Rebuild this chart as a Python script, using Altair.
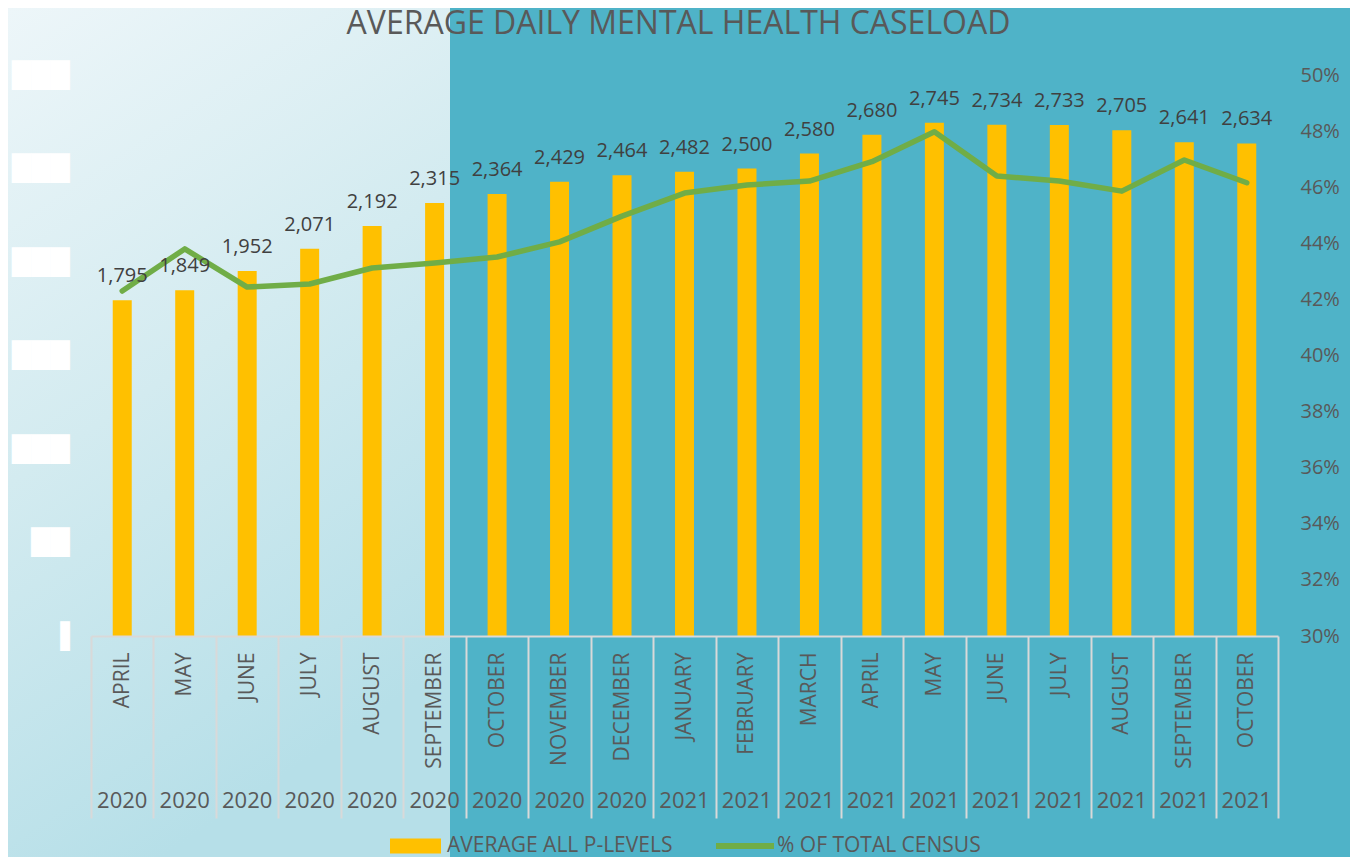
import altair as alt
import pandas as pd

# ---- data ----
months = ["APRIL", "MAY", "JUNE", "JULY", "AUGUST", "SEPTEMBER", "OCTOBER",
          "NOVEMBER", "DECEMBER", "JANUARY", "FEBRUARY", "MARCH", "APRIL",
          "MAY", "JUNE", "JULY", "AUGUST", "SEPTEMBER", "OCTOBER"]
years = ["2020", "2020", "2020", "2020", "2020", "2020", "2020", "2020", "2020",
         "2021", "2021", "2021", "2021", "2021", "2021", "2021", "2021", "2021", "2021"]
caseload = [1795, 1849, 1952, 2071, 2192, 2315, 2364, 2429, 2464, 2482,
            2500, 2580, 2680, 2745, 2734, 2733, 2705, 2641, 2634]
pct_census = [42.30, 43.80, 42.44, 42.55, 43.12, 43.30, 43.51, 44.05, 44.97,
              45.79, 46.08, 46.22, 46.91, 47.98, 46.40, 46.22, 45.86, 46.97, 46.16]
left_ticks = [0, 500, 1000, 1500, 2000, 2500, 3000]
right_ticks = [30, 32, 34, 36, 38, 40, 42, 44, 46, 48, 50]
series_bar = "AVERAGE ALL P-LEVELS"
series_line = "% OF TOTAL CENSUS"
title_text = "AVERAGE DAILY MENTAL HEALTH CASELOAD"

keys = [f"{m}|{y}" for m, y in zip(months, years)]
df = pd.DataFrame({"key": keys, "caseload": caseload, "pct": pct_census,
                   "s1": series_bar, "s2": series_line})

FONT = "Open Sans"
GREY = "#595959"
W, H = 1187, 561

x_scale = alt.Scale(paddingInner=0, paddingOuter=0)

bg = alt.Chart(pd.DataFrame({"a": [0]})).mark_rect(
    color=alt.LinearGradient(
        gradient="linear", x1=0, y1=0, x2=0.35, y2=1,
        stops=[alt.GradientStop(offset=0, color="#EDF6F9"),
               alt.GradientStop(offset=0.5, color="#D3EBF0"),
               alt.GradientStop(offset=1, color="#B6DFE8")])
).encode(x=alt.value(-83), x2=alt.value(359), y=alt.value(-67), y2=alt.value(782))

# chart title, drawn as a text mark centred above the plot
title = alt.Chart(pd.DataFrame({"t": [title_text]})).mark_text(
    font=FONT, fontSize=32, color=GREY, align="center", baseline="alphabetic"
).encode(text="t:N", x=alt.value(W / 2 - 6), y=alt.value(-41))

bars = alt.Chart(df).mark_bar(size=19).encode(
    x=alt.X("key:N", sort=keys, scale=x_scale, title=None,
            axis=alt.Axis(orient="bottom", zindex=1,
                          labelExpr="split(datum.label, '|')[0]", labelAngle=-90,
                          labelAlign="right", labelBaseline="middle",
                          labelFont=FONT, labelFontSize=21, labelColor=GREY,
                          labelPadding=-166, tickBand="extent", tickSize=182,
                          tickColor="#D9D9D9", tickWidth=2, domainColor="#D9D9D9",
                          domainWidth=2, grid=False)),
    y=alt.Y("caseload:Q", scale=alt.Scale(domain=[0, 3000]), title=None,
            axis=alt.Axis(orient="left", zindex=1, values=left_ticks, grid=False,
                          ticks=False, domain=False,
                          labelExpr="datum.value >= 1000 ? '\u2588\u2588\u2588' : (datum.value > 0 ? '\u2588\u2588' : '\u2590')",
                          labelFont="DejaVu Sans", labelFontSize=25, labelColor="white",
                          labelPadding=22)),
    fill=alt.Fill("s1:N", scale=alt.Scale(domain=[series_bar], range=["#FFC000"]),
                  legend=alt.Legend(orient="none", legendX=299, legendY=745.5,
                                    title=None, direction="horizontal", padding=0,
                                    labelFont=FONT, labelFontSize=21, labelColor=GREY,
                                    labelLimit=0,
                                    symbolType="M-1,-0.294H1V0.294H-1Z",
                                    symbolSize=2601, symbolStrokeWidth=0,
                                    symbolOpacity=1, labelOffset=6)),
)

line = alt.Chart(df).mark_line(strokeWidth=5.5, strokeCap="round", strokeJoin="round").encode(
    x=alt.X("key:N", sort=keys, scale=x_scale, title=None,
            axis=alt.Axis(orient="bottom", zindex=1,
                          labelExpr="split(datum.label, '|')[1]", labelAngle=0,
                          labelAlign="center", labelBaseline="top",
                          labelFont=FONT, labelFontSize=22, labelColor=GREY,
                          labelPadding=154, ticks=False, domain=False, grid=False)),
    y=alt.Y("pct:Q", scale=alt.Scale(domain=[30, 50]), title=None,
            axis=alt.Axis(orient="right", zindex=1, values=right_ticks, grid=False,
                          ticks=False, domain=False, labelExpr="datum.value + '%'",
                          labelFont=FONT, labelFontSize=20, labelColor=GREY,
                          labelPadding=22)),
    stroke=alt.Stroke("s2:N", scale=alt.Scale(domain=[series_line], range=["#70AD47"]),
                      legend=alt.Legend(orient="none", legendX=622, legendY=739,
                                        title=None, direction="horizontal", padding=0,
                                        labelFont=FONT, labelFontSize=21, labelColor=GREY,
                                        labelLimit=0,
                                        symbolType="stroke", symbolSize=3364,
                                        symbolStrokeWidth=6, labelOffset=0)),
)

labels = alt.Chart(df).mark_text(font=FONT, fontSize=20, color="#404040",
                                 baseline="alphabetic", dy=-18).encode(
    x=alt.X("key:N", sort=keys, scale=x_scale, axis=None),
    y=alt.Y("caseload:Q", scale=alt.Scale(domain=[0, 3000]), axis=None),
    text=alt.Text("caseload:Q", format=","),
)

chart = alt.layer(bg, title, bars, line, labels).resolve_scale(
    y="independent"
).resolve_axis(x="independent").properties(
    width=W, height=H,
    autosize=alt.AutoSizeParams(type="none"),
    padding={"left": 83, "top": 67, "right": 72, "bottom": 221},
).configure(background="#4FB3C8").configure_view(stroke=None)

chart.save("out.html", embed_options={"renderer": "svg", "actions": False})
